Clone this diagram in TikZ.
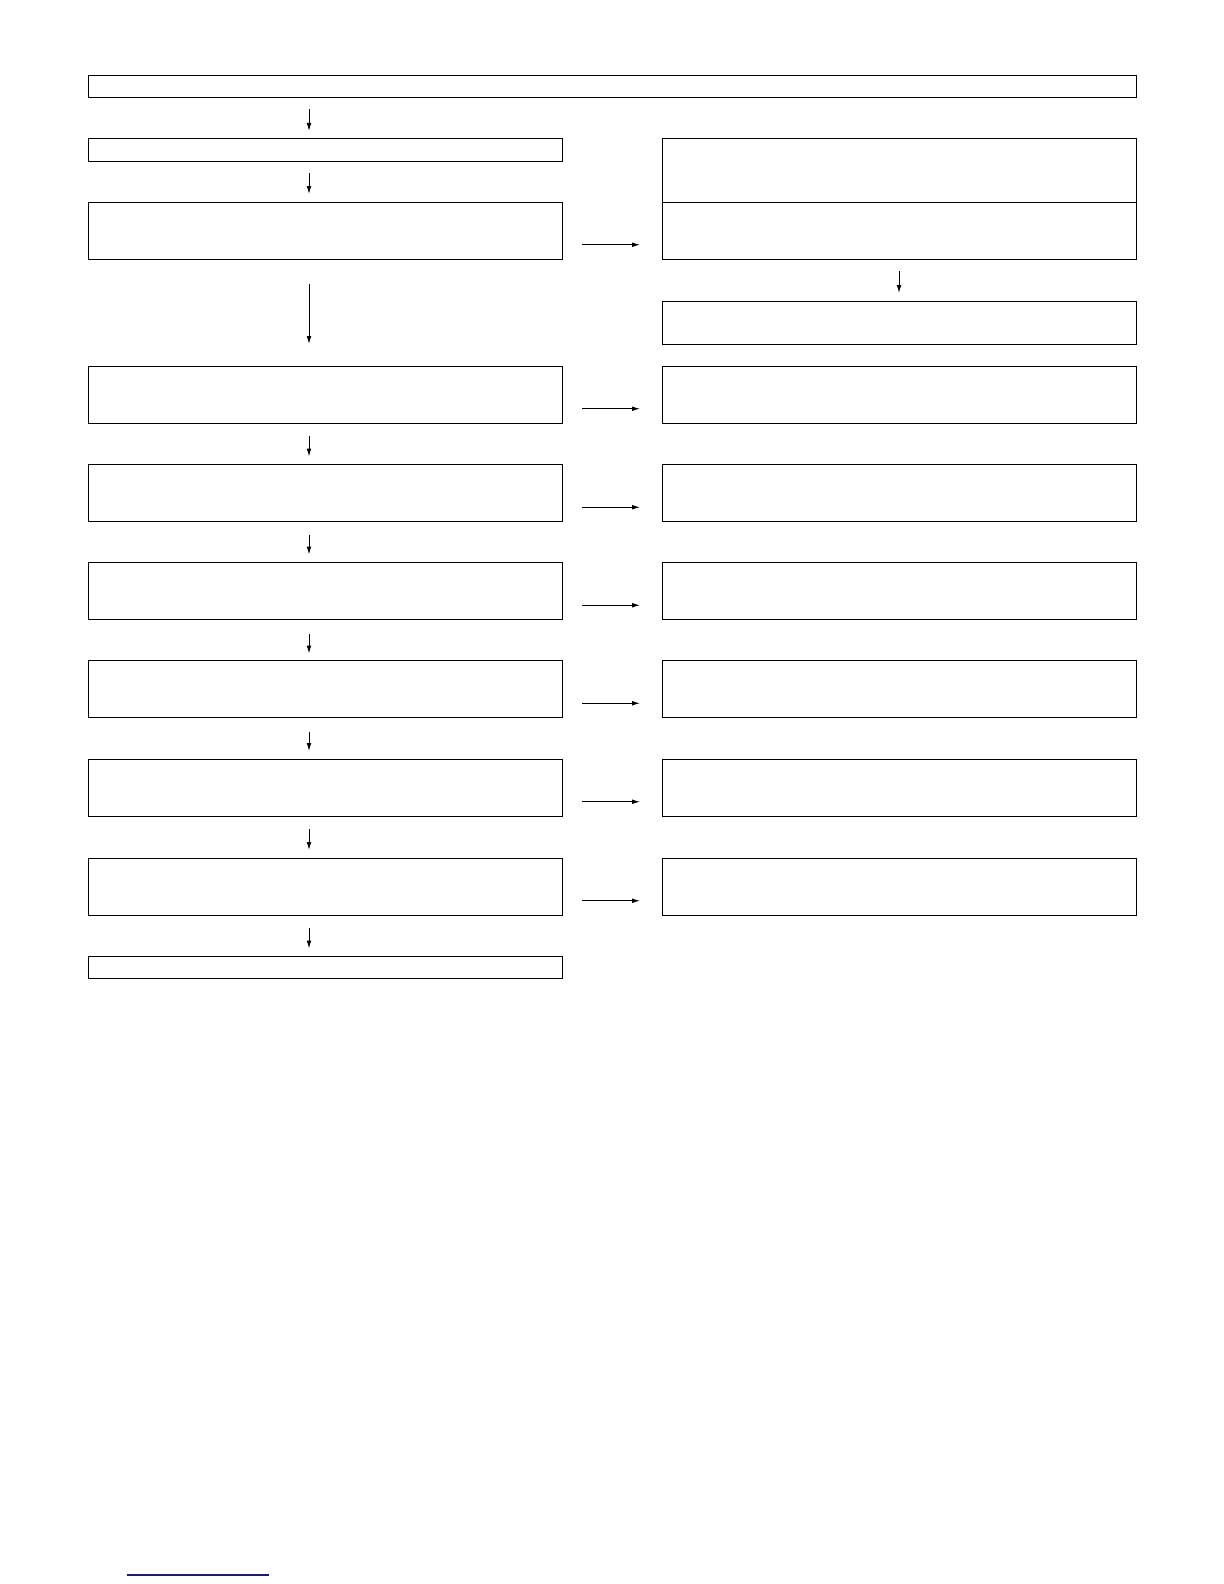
\documentclass[tikz,border=0pt]{standalone}
\usetikzlibrary{arrows.meta}
\usetikzlibrary{calc}
\definecolor{linkblue}{RGB}{25,25,120}
\tikzset{
  box/.style={draw, line width=.5pt, inner sep=0pt, outer sep=0pt, minimum width=237pt},
  tallbox/.style={box, minimum height=28.5pt},
  thinbox/.style={box, minimum height=11pt},
  flow/.style={line width=.5pt, -{Latex[length=4pt,width=2.4pt]}},
}

\begin{document}
\begin{tikzpicture}[x=.5pt,y=-.5pt]
\useasboundingbox (0,0) rectangle (1224,1584);
% the top bar
\node[box, minimum width=524pt, minimum height=11pt] (top) at (612,87) {};
% left column
\node[thinbox] (l1) at (325,150) {};
\node[tallbox] (l2) at (325,230.5) {};
\node[tallbox] (l3) at (325,394.5) {};
\node[tallbox] (l4) at (325,493) {};
\node[tallbox] (l5) at (325,591) {};
\node[tallbox] (l6) at (325,689) {};
\node[tallbox] (l7) at (325,787.5) {};
\node[tallbox] (l8) at (325,886.5) {};
\node[thinbox] (l9) at (325,967.5) {};
% right column
\node[box, minimum height=31.5pt] (r1) at (899,170.5) {};
\node[tallbox] (r2) at (899,230.5) {};
\node[box, minimum height=21.5pt] (r3) at (899,322.5) {};
\node[tallbox] (r4) at (899,394.5) {};
\node[tallbox] (r5) at (899,493) {};
\node[tallbox] (r6) at (899,591) {};
\node[tallbox] (r7) at (899,689) {};
\node[tallbox] (r8) at (899,787.5) {};
\node[tallbox] (r9) at (899,886.5) {};
% the down arrows
\coordinate (axis) at (309,0);
\draw[flow, shorten <=5.5pt, shorten >=4pt] (top.south -| axis) -- (l1.north -| axis);
\draw[flow, shorten <=6pt, shorten >=4pt] (l1.south -| axis) -- (l2.north -| axis);
\draw[flow, shorten <=12.5pt, shorten >=11pt] (l2.south -| axis) -- (l3.north -| axis);
\draw[flow, shorten <=6.5pt, shorten >=4pt] (l3.south -| axis) -- (l4.north -| axis);
\draw[flow, shorten <=6.5pt, shorten >=4pt] (l4.south -| axis) -- (l5.north -| axis);
\draw[flow, shorten <=7pt, shorten >=3.5pt] (l5.south -| axis) -- (l6.north -| axis);
\draw[flow, shorten <=7pt, shorten >=4pt] (l6.south -| axis) -- (l7.north -| axis);
\draw[flow, shorten <=6.5pt, shorten >=4pt] (l7.south -| axis) -- (l8.north -| axis);
\draw[flow, shorten <=6.5pt, shorten >=4pt] (l8.south -| axis) -- (l9.north -| axis);
\draw[flow, shorten <=6pt, shorten >=4pt] (r2.south) -- (r3.north);
% the side arrows
\draw[flow, shorten <=10pt, shorten >=11pt] ($(l2.east)!.5!(l2.south east)$) -- ($(r2.west)!.5!(r2.south west)$);
\draw[flow, shorten <=10pt, shorten >=11pt] ($(l3.east)!.5!(l3.south east)$) -- ($(r4.west)!.5!(r4.south west)$);
\draw[flow, shorten <=10pt, shorten >=11pt] ($(l4.east)!.5!(l4.south east)$) -- ($(r5.west)!.5!(r5.south west)$);
\draw[flow, shorten <=10pt, shorten >=11pt] ($(l5.east)!.5!(l5.south east)$) -- ($(r6.west)!.5!(r6.south west)$);
\draw[flow, shorten <=10pt, shorten >=11pt] ($(l6.east)!.5!(l6.south east)$) -- ($(r7.west)!.5!(r7.south west)$);
\draw[flow, shorten <=10pt, shorten >=11pt] ($(l7.east)!.5!(l7.south east)$) -- ($(r8.west)!.5!(r8.south west)$);
\draw[flow, shorten <=10pt, shorten >=11pt] ($(l8.east)!.5!(l8.south east)$) -- ($(r9.west)!.5!(r9.south west)$);
% the blue rule at the foot
\draw[linkblue, line width=.75pt] (127,1575) -- (269,1575);
\end{tikzpicture}
\end{document}
